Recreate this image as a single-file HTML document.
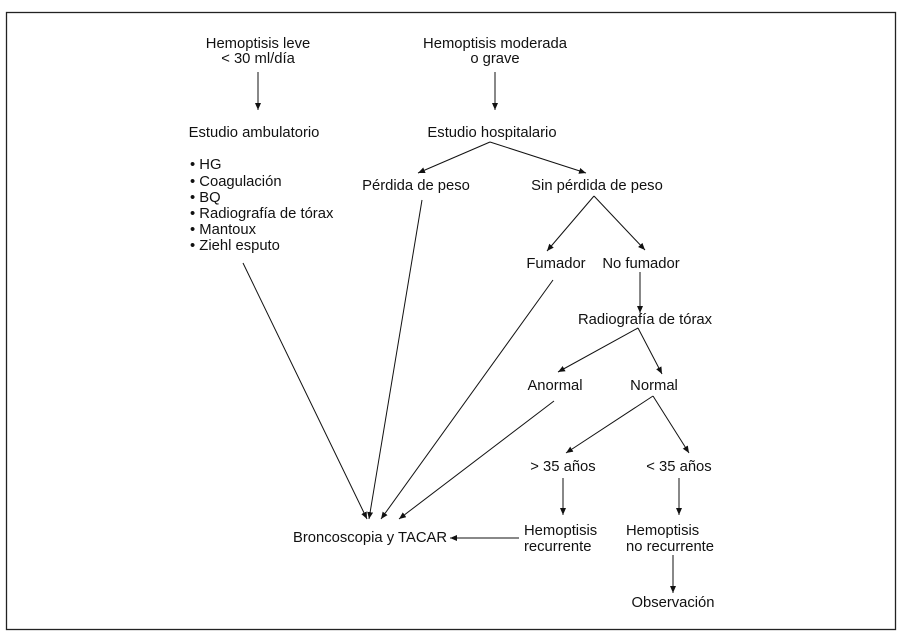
<!DOCTYPE html>
<html><head><meta charset="utf-8"><style>
html,body{margin:0;padding:0;background:#fff;width:906px;height:636px;overflow:hidden}
svg{display:block}
text{font-family:"Liberation Sans",Arial,sans-serif;font-size:14.8px;fill:#111}
</style></head><body>
<svg width="906" height="636" viewBox="0 0 906 636">
<defs><marker id="a" markerWidth="8" markerHeight="8" refX="7" refY="3" orient="auto" markerUnits="userSpaceOnUse"><path d="M0,0 L7,3 L0,6 z" fill="#111"/></marker></defs>
<rect x="6.5" y="12.5" width="889" height="617" fill="none" stroke="#222" stroke-width="1.3"/>
<g stroke="#111" stroke-width="1" fill="none" marker-end="url(#a)">
<line x1="258" y1="72" x2="258" y2="110"/>
<line x1="495" y1="72" x2="495" y2="110"/>
<line x1="490" y1="142" x2="418" y2="173"/>
<line x1="490" y1="142" x2="586" y2="173"/>
<line x1="594" y1="196" x2="547" y2="251"/>
<line x1="594" y1="196" x2="645" y2="250"/>
<line x1="640" y1="272" x2="640" y2="313"/>
<line x1="638" y1="328" x2="558" y2="372"/>
<line x1="638" y1="328" x2="662" y2="374"/>
<line x1="653" y1="396" x2="566" y2="453"/>
<line x1="653" y1="396" x2="689" y2="453"/>
<line x1="563" y1="478" x2="563" y2="515"/>
<line x1="679" y1="478" x2="679" y2="515"/>
<line x1="519" y1="538" x2="450" y2="538"/>
<line x1="673" y1="555" x2="673" y2="593"/>
<line x1="243" y1="263" x2="367" y2="519"/>
<line x1="422" y1="200" x2="369" y2="519"/>
<line x1="553" y1="280" x2="381" y2="519"/>
<line x1="554" y1="401" x2="399" y2="519"/>
</g>
<g text-anchor="middle">
<text x="258" y="48">Hemoptisis leve</text>
<text x="258" y="63">&lt; 30 ml/día</text>
<text x="495" y="48">Hemoptisis moderada</text>
<text x="495" y="63">o grave</text>
<text x="254" y="137">Estudio ambulatorio</text>
<text x="492" y="137">Estudio hospitalario</text>
<text x="416" y="190">Pérdida de peso</text>
<text x="597" y="190">Sin pérdida de peso</text>
<text x="556" y="268">Fumador</text>
<text x="641" y="268">No fumador</text>
<text x="645" y="324">Radiografía de tórax</text>
<text x="555" y="390">Anormal</text>
<text x="654" y="390">Normal</text>
<text x="563" y="471">&gt; 35 años</text>
<text x="679" y="471">&lt; 35 años</text>
<text x="673" y="607">Observación</text>
</g>
<text x="293" y="542">Broncoscopia y TACAR</text>
<text x="524" y="535">Hemoptisis</text>
<text x="524" y="551">recurrente</text>
<text x="626" y="535">Hemoptisis</text>
<text x="626" y="551">no recurrente</text>
<g>
<text x="190" y="169">• HG</text>
<text x="190" y="186">• Coagulación</text>
<text x="190" y="202">• BQ</text>
<text x="190" y="218">• Radiografía de tórax</text>
<text x="190" y="234">• Mantoux</text>
<text x="190" y="250">• Ziehl esputo</text>
</g>
</svg>
</body></html>
